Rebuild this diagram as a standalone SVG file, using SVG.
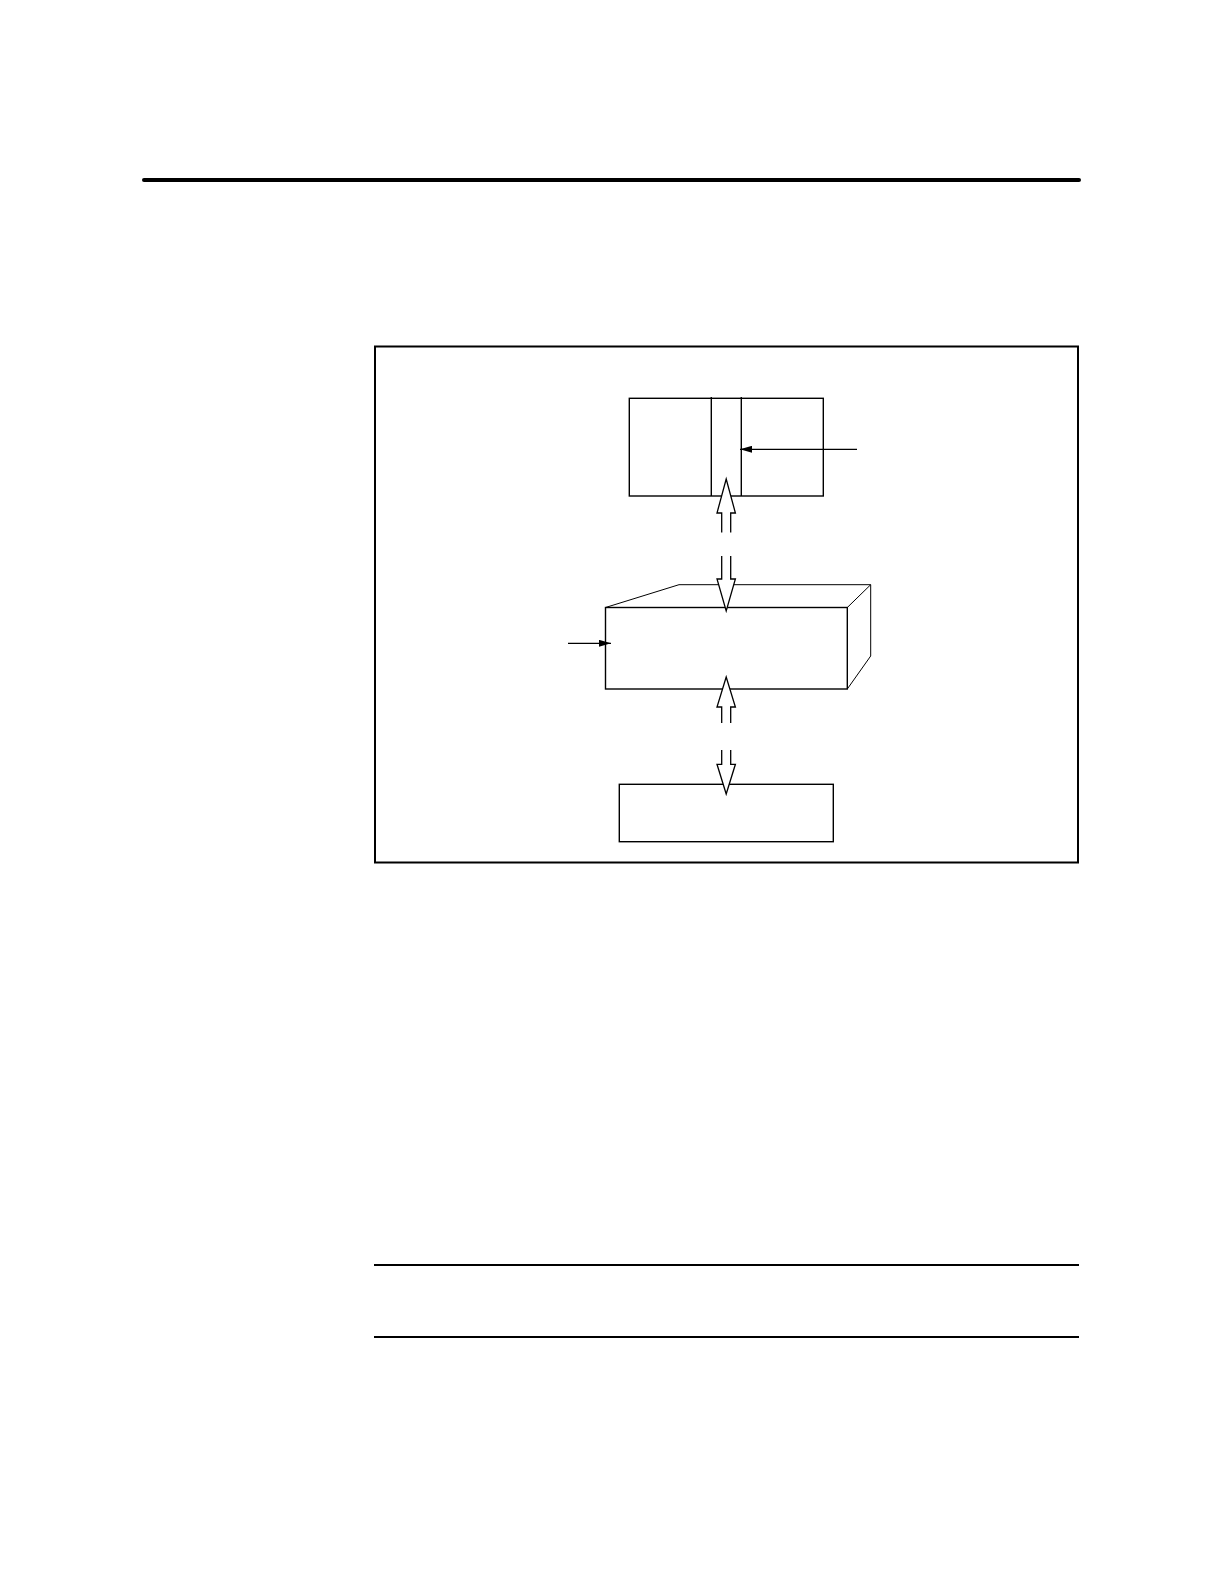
<svg xmlns="http://www.w3.org/2000/svg" width="1224" height="1584" viewBox="0 0 1224 1584">
<style>
.box{fill:none;stroke:#000;stroke-width:1.4}
.thin{fill:none;stroke:#000;stroke-width:1}
.hollow{fill:#fff;stroke:#000;stroke-width:1.3;stroke-linejoin:miter}
.line{fill:none;stroke:#000;stroke-width:1.2}
.rule{stroke:#000;fill:none}
</style>
<defs>
<marker id="ah" viewBox="0 0 12 7" refX="12" refY="3.5" markerWidth="12" markerHeight="7" markerUnits="userSpaceOnUse" orient="auto">
<path d="M0,0 L12,3.5 L0,7 Z" fill="#000"/>
</marker>
</defs>
<rect width="1224" height="1584" fill="#fff"/>
<line class="rule" x1="144" y1="180" x2="1079" y2="180" stroke-width="4" stroke-linecap="round"/>
<rect class="rule" x="375" y="346.5" width="703" height="516" stroke-width="2"/>
<line class="rule" x1="374" y1="1265" x2="1079" y2="1265" stroke-width="2"/>
<line class="rule" x1="374" y1="1337" x2="1079" y2="1337" stroke-width="2"/>

<g id="top-box">
<rect class="box" x="629.3" y="398.3" width="194" height="97.7"/>
<line class="box" x1="711.3" y1="397" x2="711.3" y2="496"/>
<line class="box" x1="741.3" y1="397" x2="741.3" y2="496"/>
</g>

<g id="middle-block">
<polyline class="thin" points="605.5,607.5 679,584.7 870.7,584.7 870.7,656 847.3,689"/>
<line class="thin" x1="847.3" y1="607.5" x2="870.7" y2="584.7"/>
<rect class="box" x="605.5" y="607.5" width="241.8" height="81.5"/>
</g>

<g id="bottom-box">
<rect class="box" x="619.3" y="784.3" width="214" height="57.4"/>
</g>

<g id="connectors">
<line class="line" x1="857" y1="449.3" x2="740" y2="449.3" marker-end="url(#ah)"/>
<line class="line" x1="568" y1="643.3" x2="611" y2="643.3" marker-end="url(#ah)"/>
<path class="hollow" d="M721.7,532.5 V513 H717 L726.2,479 L735.4,513 H730.7 V532.5"/>
<path class="hollow" d="M721.7,556 V579 H717 L726.2,611 L735.4,579 H730.7 V556"/>
<path class="hollow" d="M721.7,723 V707 H717 L726.2,677 L735.4,707 H730.7 V723"/>
<path class="hollow" d="M721.7,750 V764.3 H717 L726.2,794 L735.4,764.3 H730.7 V750"/>
</g>
</svg>
